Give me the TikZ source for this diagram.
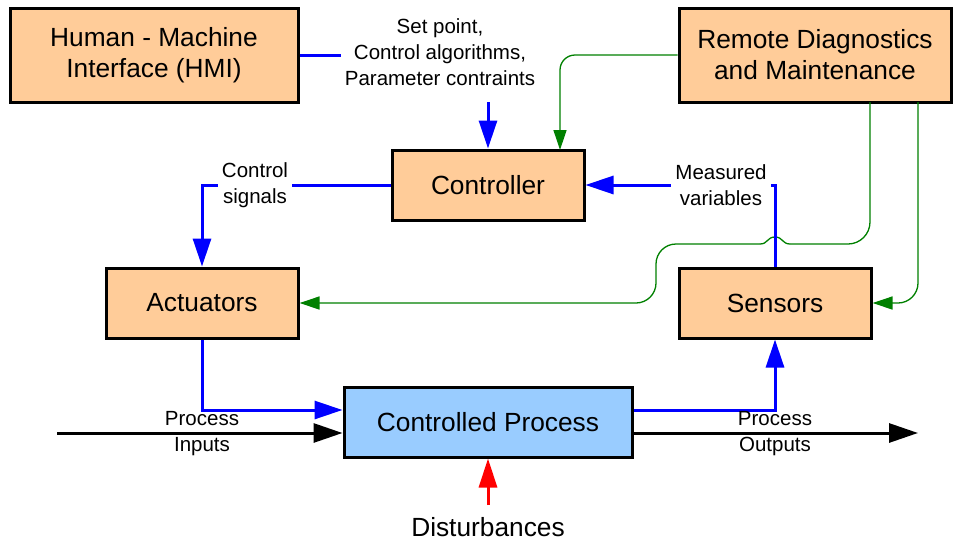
\documentclass[tikz,border=0pt]{standalone}
\usepackage{fontspec}
\setmainfont{Liberation Sans}
\usetikzlibrary{arrows.meta}
\definecolor{boxorange}{HTML}{FFCC99}
\definecolor{boxblue}{HTML}{99CCFF}
\definecolor{lgreen}{HTML}{008000}
\tikzset{
  blk/.style={draw=black, line width=3pt, fill=boxorange, minimum width=192pt,
    minimum height=70pt, inner sep=0pt, align=center,
    font=\fontsize{26.3}{31}\selectfont},
  bl/.style={draw=blue, line width=3pt},
  barrow/.style={-{Triangle[length=28pt,width=18pt]}},
  gl/.style={draw=lgreen, line width=1.3pt},
  garrow/.style={-{Triangle[length=20pt,width=13pt]}},
  blkarrow/.style={draw=black, line width=3pt, -{Triangle[length=29pt,width=19pt]}},
  lbl/.style={fill=white, align=center, font=\fontsize{20.5}{26}\selectfont,
    inner xsep=4pt, inner ysep=2pt},
  plainlbl/.style={align=center, font=\fontsize{20.5}{26}\selectfont, inner sep=0pt},
}
\begin{document}
\begin{tikzpicture}[x=1pt, y=-1pt]
\useasboundingbox (0,0) rectangle (956,541);
% boxes
\node[blk, minimum width=288pt, minimum height=94pt] (hmi) at (154,55) {Human - Machine\\Interface (HMI)};
\node[blk, minimum width=272pt, minimum height=94pt] (rdm) at (815,55) {Remote Diagnostics\\and Maintenance};
\node[blk] (ctrl) at (488,185) {Controller};
\node[blk] (act) at (202,303) {Actuators};
\node[blk] (sens) at (775,303) {Sensors};
\node[blk, fill=boxblue, minimum width=288pt] (proc) at (488,422) {Controlled Process};
% free ends
\coordinate (cin) at (560,150);
\coordinate (g1) at (870,102);
\coordinate (g2) at (918,102);
\coordinate (pin) at (57,433);
\coordinate (pout) at (918,433);
\coordinate (dist) at (488,505);
% green connectors
\draw[gl, garrow, rounded corners=15pt] (rdm.west) -| (cin);
\draw[gl, rounded corners=22pt] (g1) -- (870,244) -- (790,244);
\draw[gl] (790,244) .. controls (782,244) and (783,237) .. (775,237)
                    .. controls (767,237) and (768,244) .. (760,244);
\draw[gl, garrow, rounded corners=20pt] (760,244) -- (656,244) -- (656,303) -- (act.east);
\draw[gl, garrow, rounded corners=20pt] (g2) -- (918,303) -- (sens.east);
% blue connectors
\draw[bl, barrow] (hmi.east) -| (ctrl.north);
\draw[bl, barrow] (ctrl.west) -| (act.north);
\draw[bl, barrow] (sens.north) |- (ctrl.east);
\draw[bl, barrow] (act.south) |- ([yshift=12pt]proc.west);
\draw[bl, barrow] ([yshift=12pt]proc.east) -| (sens.south);
% black connectors
\draw[blkarrow] (pin) -- ([yshift=-11pt]proc.west);
\draw[blkarrow] ([yshift=-11pt]proc.east) -- (pout);
% red
\draw[draw=red, line width=3pt, -{Triangle[length=29pt,width=18pt]}] (dist) -- (proc.south);
% labels
\node[lbl, minimum height=100pt] (lsp) at (440,52) {Set point,\\Control algorithms,\\Parameter contraints};
\node[lbl] (lcs) at (255,185) {Control\\signals};
\node[lbl] (lmv) at (721,185) {Measured\\variables};
\node[plainlbl] (lpi) at (202,434) {Process\\Inputs};
\node[plainlbl] (lpo) at (775,434) {Process\\Outputs};
\node[font=\fontsize{26.3}{31}\selectfont, inner sep=0pt] (ldist) at (488,527) {Disturbances};
\end{tikzpicture}
\end{document}
